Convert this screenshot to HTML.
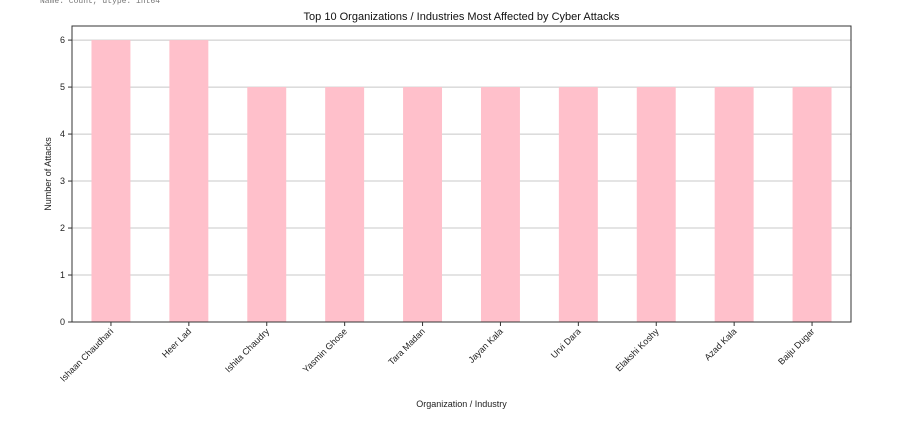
<!DOCTYPE html>
<html><head><meta charset="utf-8"><style>
body{margin:0;background:#fff;font-family:"Liberation Sans","DejaVu Sans",sans-serif}
</style></head><body>
<svg id="c" width="906" height="427">
<text x="40" y="3" font-size="8" fill="#777" font-family="Liberation Mono,monospace">Name: count, dtype: int64</text>
</svg>
<script>
const categories=["Ishaan Chaudhari","Heer Lad","Ishita Chaudry","Yasmin Ghose","Tara Madan","Jayan Kala","Urvi Dara","Elakshi Koshy","Azad Kala","Baiju Dugar"];
const counts=[6,6,5,5,5,5,5,5,5,5];
const yTicks=[0,1,2,3,4,5,6];
const svg=document.getElementById('c');const NS='http://www.w3.org/2000/svg';
const L=72,R=851,T=26,B=322,yMax=6.3;
const x=i=>L+(i+0.5)*(R-L)/categories.length;
const y=v=>B-v/yMax*(B-T);
function mk(t,a,p){const e=document.createElementNS(NS,t);for(const k in a)e.setAttribute(k,a[k]);(p||svg).appendChild(e);return e;}
yTicks.forEach(v=>{
 const g=mk('line',{x1:L,x2:R,y1:y(v),y2:y(v),stroke:'#c8c8c8','stroke-width':1});
 
 
 mk('line',{x1:L-4,x2:L,y1:y(v),y2:y(v),stroke:'#333'});
 const t=mk('text',{x:L-7,y:y(v)+3,'font-size':9,'text-anchor':'end',fill:'#222'});t.textContent=v;
 
 
});
const bw=(R-L)/categories.length*0.5;
categories.forEach((c,i)=>{
 const b=mk('rect',{x:x(i)-bw/2,y:y(counts[i]),width:bw,height:B-y(counts[i]),fill:'#ffc0cb'});
 
 
 mk('line',{x1:x(i),x2:x(i),y1:B,y2:B+4,stroke:'#333'});
 const t=mk('text',{x:x(i)+3,y:B+10,'font-size':9,'text-anchor':'end',fill:'#222',transform:`rotate(-45 ${x(i)+3} ${B+10})`});t.textContent=c;
 
 
});
const f=mk('rect',{x:L,y:T,width:R-L,height:B-T,fill:'none',stroke:'#333','stroke-width':1});


let t=mk('text',{x:(L+R)/2,y:20,'font-size':11,'text-anchor':'middle',fill:'#111'});t.textContent='Top 10 Organizations / Industries Most Affected by Cyber Attacks';


t=mk('text',{x:(L+R)/2,y:407,'font-size':9,'text-anchor':'middle',fill:'#222'});t.textContent='Organization / Industry';


t=mk('text',{x:51,y:(T+B)/2,'font-size':9,'text-anchor':'middle',fill:'#222',transform:`rotate(-90 51 ${(T+B)/2})`});t.textContent='Number of Attacks';


</script>
</body></html>
